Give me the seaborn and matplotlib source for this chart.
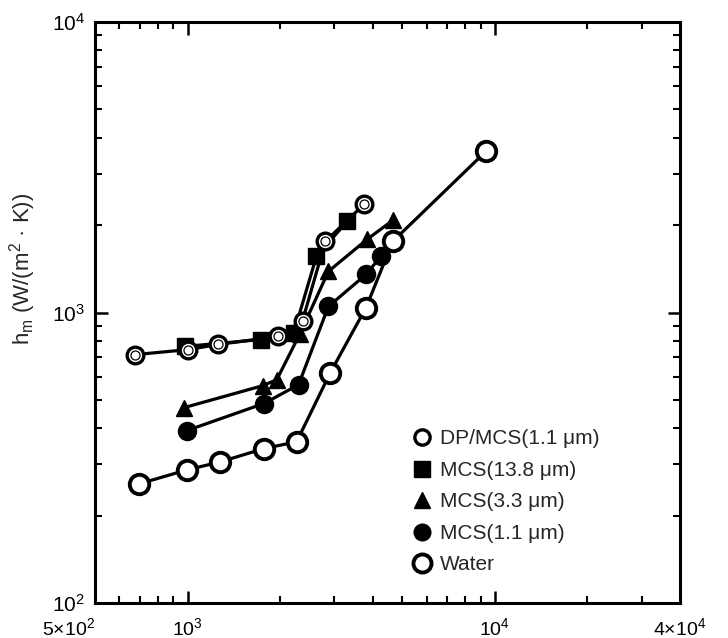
import matplotlib
matplotlib.use("Agg")
import matplotlib.pyplot as plt
import seaborn as sns
import pandas as pd
from matplotlib.lines import Line2D
from matplotlib.ticker import FixedLocator, NullFormatter

# ---------------- data ----------------
dp_x = [675, 1000, 1259, 1966, 2367, 2808, 3752]
dp_y = [716, 745, 776, 827, 938, 1757, 2357]

mcs138_x = [978, 1733, 2214, 2626, 3306]
mcs138_y = [764, 807, 847, 1561, 2059]

mcs33_x = [971, 1758, 1951, 2315, 2872, 3837, 4652]
mcs33_y = [470, 560, 587, 840, 1385, 1785, 2076]

mcs11_x = [993, 1771, 2297, 2872, 3808, 4256]
mcs11_y = [392, 486, 564, 1049, 1352, 1561]

water_x = [695, 993, 1277, 1771, 2264, 2915, 3808, 4652, 9355]
water_y = [257, 287, 306, 340, 359, 621, 1040, 1757, 3590]

series_names = ["DP/MCS(1.1 \u03bcm)", "MCS(13.8 \u03bcm)", "MCS(3.3 \u03bcm)",
                "MCS(1.1 \u03bcm)", "Water"]

x_tick_vals = [500, 1000, 10000, 40000]
x_tick_labels = ["5\u00d710$^2$", "10$^3$", "10$^4$", "4\u00d710$^4$"]
y_tick_vals = [100, 1000, 10000]
y_tick_labels = ["10$^2$", "10$^3$", "10$^4$"]

# ---------------- styling ----------------
sns.set_theme(style="ticks")
plt.rcParams["font.family"] = ["Liberation Sans", "DejaVu Sans"]
plt.rcParams["mathtext.fontset"] = "custom"
plt.rcParams["mathtext.rm"] = "Liberation Sans"
plt.rcParams["mathtext.it"] = "Liberation Sans"

fig = plt.figure(figsize=(7.28, 6.38), dpi=100)
ax = fig.add_axes([95 / 728, 1 - 603 / 638, (680 - 95) / 728, (603 - 22) / 638])

styles = {
    series_names[0]: dict(marker="o", mfc="white", mec="black", mew=2.4, ms=12),
    series_names[1]: dict(marker="s", mfc="black", mec="black", mew=1, ms=12),
    series_names[2]: dict(marker="^", mfc="black", mec="black", mew=1, ms=12),
    series_names[3]: dict(marker="o", mfc="black", mec="black", mew=1, ms=13),
    series_names[4]: dict(marker="o", mfc="white", mec="black", mew=2.8, ms=14),
}

data = [
    (series_names[4], water_x, water_y),
    (series_names[3], mcs11_x, mcs11_y),
    (series_names[2], mcs33_x, mcs33_y),
    (series_names[1], mcs138_x, mcs138_y),
    (series_names[0], dp_x, dp_y),
]

for name, xs, ys in data:
    df = pd.DataFrame({"x": xs, "y": ys})
    st = styles[name]
    sns.lineplot(data=df, x="x", y="y", ax=ax, sort=False, estimator=None,
                 color="black", linewidth=2.3, marker=st["marker"],
                 markersize=st["ms"], markerfacecolor=st["mfc"],
                 markeredgecolor=st["mec"], markeredgewidth=st["mew"])

# inner thin ring of the DP/MCS markers
df_dp = pd.DataFrame({"x": dp_x, "y": dp_y})
sns.lineplot(data=df_dp, x="x", y="y", ax=ax, sort=False, estimator=None,
             linestyle="none", marker="o", markersize=6.5, markerfacecolor="none",
             markeredgecolor="black", markeredgewidth=0.9)

ax.set_xscale("log")
ax.set_yscale("log")
ax.set_xlim(500, 40000)
ax.set_ylim(100, 10000)

ax.xaxis.set_major_locator(FixedLocator(x_tick_vals))
ax.set_xticklabels(x_tick_labels)
ax.xaxis.set_minor_locator(FixedLocator(
    [600, 700, 800, 900, 2000, 3000, 4000, 5000, 6000, 7000, 8000, 9000, 20000, 30000]))
ax.xaxis.set_minor_formatter(NullFormatter())
ax.yaxis.set_major_locator(FixedLocator(y_tick_vals))
ax.set_yticklabels(y_tick_labels)
ax.yaxis.set_minor_locator(FixedLocator(
    [200, 300, 400, 500, 600, 700, 800, 900, 2000, 3000, 4000, 5000, 6000, 7000, 8000, 9000]))
ax.yaxis.set_minor_formatter(NullFormatter())

ax.tick_params(which="both", direction="in", top=True, right=True, colors="black")
ax.tick_params(axis="y", which="major", labelsize=15, pad=7)
ax.tick_params(axis="x", which="major", labelsize=14, pad=10)
ax.tick_params(which="major", length=9, width=1.8)
ax.tick_params(which="minor", length=5, width=1.5)
xl = ax.get_xticklabels()
xl[0].set_horizontalalignment("right")
xl[-1].set_horizontalalignment("center")
for sp in ax.spines.values():
    sp.set_linewidth(2.2)
    sp.set_color("black")

ax.set_xlabel("")
ax.set_ylabel("h$_m$ (W/(m$^2$ \u00b7 K))", fontsize=16)
ax.yaxis.set_label_coords(-0.098, 0.575)

handles = []
for name in series_names:
    st = styles[name]
    handles.append(Line2D([], [], linestyle="none", marker=st["marker"],
                          markersize=st["ms"] - 1, markerfacecolor=st["mfc"],
                          markeredgecolor=st["mec"], markeredgewidth=st["mew"]))
ax.legend(handles, series_names, loc="upper left",
          bbox_to_anchor=((402 - 95) / 585, (603 - 421) / 581),
          frameon=False, fontsize=15, handletextpad=0.3, labelspacing=0.6,
          borderaxespad=0, handlelength=1.1)

fig.savefig("out.png", dpi=100)
